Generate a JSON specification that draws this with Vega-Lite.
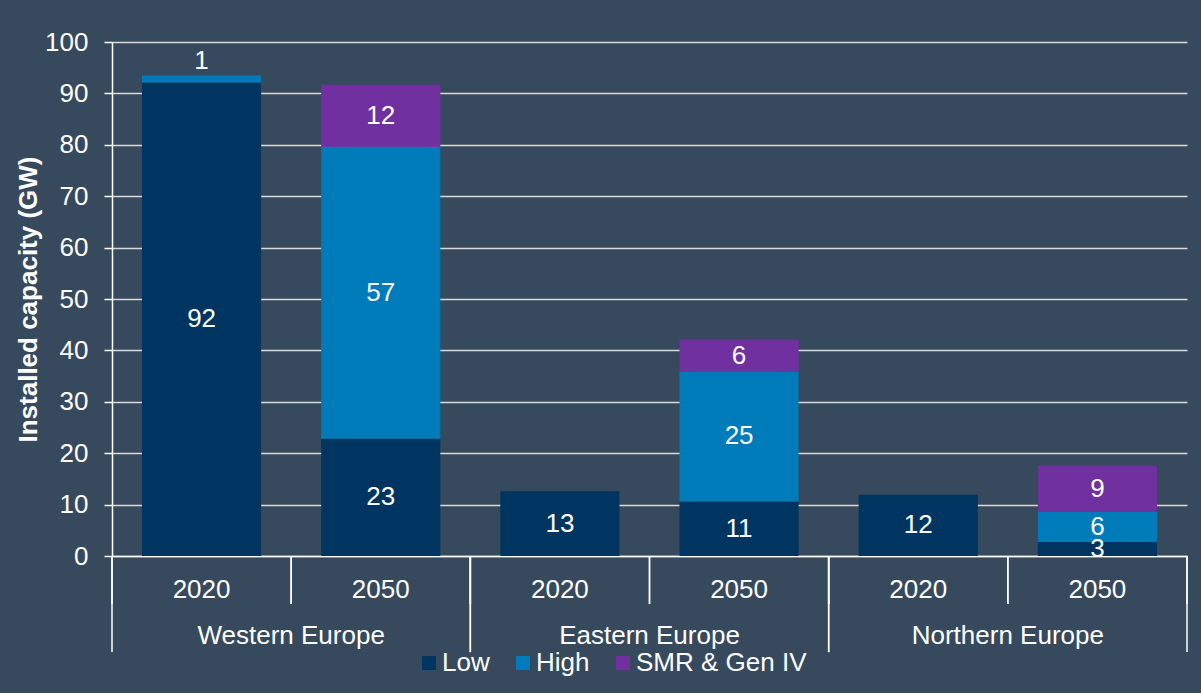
{
  "$schema": "https://vega.github.io/schema/vega-lite/v6.json",
  "width": 1075,
  "height": 514,
  "autosize": {"type": "none"},
  "padding": {"left": 112, "top": 42, "right": 14, "bottom": 137},
  "background": "#36495d",
  "config": {
    "font": "Liberation Sans",
    "view": {"stroke": null},
    "legend": {"padding": 0}
  },
  "datasets": {
    "cap": [
      {"region": "Western Europe", "year": "2020", "key": "Western Europe|2020", "series": "Low", "value": 92.1},
      {"region": "Western Europe", "year": "2020", "key": "Western Europe|2020", "series": "High", "value": 1.4},
      {"region": "Western Europe", "year": "2050", "key": "Western Europe|2050", "series": "Low", "value": 22.8},
      {"region": "Western Europe", "year": "2050", "key": "Western Europe|2050", "series": "High", "value": 56.8},
      {"region": "Western Europe", "year": "2050", "key": "Western Europe|2050", "series": "SMR & Gen IV", "value": 12.1},
      {"region": "Eastern Europe", "year": "2020", "key": "Eastern Europe|2020", "series": "Low", "value": 12.6},
      {"region": "Eastern Europe", "year": "2050", "key": "Eastern Europe|2050", "series": "Low", "value": 10.6},
      {"region": "Eastern Europe", "year": "2050", "key": "Eastern Europe|2050", "series": "High", "value": 25.3},
      {"region": "Eastern Europe", "year": "2050", "key": "Eastern Europe|2050", "series": "SMR & Gen IV", "value": 6.2},
      {"region": "Northern Europe", "year": "2020", "key": "Northern Europe|2020", "series": "Low", "value": 11.9},
      {"region": "Northern Europe", "year": "2050", "key": "Northern Europe|2050", "series": "Low", "value": 2.7},
      {"region": "Northern Europe", "year": "2050", "key": "Northern Europe|2050", "series": "High", "value": 5.9},
      {"region": "Northern Europe", "year": "2050", "key": "Northern Europe|2050", "series": "SMR & Gen IV", "value": 9.0}
    ],
    "regions": [
      {"region": "Western Europe"},
      {"region": "Eastern Europe"},
      {"region": "Northern Europe"}
    ]
  },
  "layer": [
    {
      "data": {"name": "cap"},
      "transform": [
        {"calculate": "indexof(['Low','High','SMR & Gen IV'], datum.series)", "as": "ord"},
        {"stack": "value", "groupby": ["key"], "sort": [{"field": "ord", "order": "ascending"}], "as": ["y0", "y1"]},
        {"calculate": "(datum.y0 + datum.y1) / 2", "as": "mid"}
      ],
      "layer": [
        {
          "mark": {"type": "bar"},
          "encoding": {
            "x": {
              "field": "key", "type": "nominal",
              "sort": ["Western Europe|2020", "Western Europe|2050", "Eastern Europe|2020", "Eastern Europe|2050", "Northern Europe|2020", "Northern Europe|2050"],
              "scale": {"paddingInner": 0.335, "paddingOuter": 0.1675},
              "axis": {
                "title": null,
                "labelExpr": "split(datum.label, '|')[1]",
                "labelAngle": 0,
                "labelColor": "white",
                "labelFontSize": 26,
                "labelPadding": 20,
                "ticks": false,
                "domainColor": "white",
                "domainWidth": 1.5,
                "grid": false
              }
            },
            "y": {
              "field": "y0", "type": "quantitative",
              "scale": {"domain": [0, 100], "nice": false},
              "axis": {
                "title": "Installed capacity (GW)",
                "titleColor": "white",
                "titleFontSize": 26,
                "titleFontWeight": "bold",
                "titleAngle": 270,
                "titleX": -84,
                "titleY": 257,
                "titleAlign": "center",
                "titleBaseline": "middle",
                "values": [0, 10, 20, 30, 40, 50, 60, 70, 80, 90, 100],
                "grid": true,
                "gridColor": "#d9d9d9",
                "gridWidth": 1.5,
                "domainColor": "white",
                "domainWidth": 1.5,
                "tickColor": "white",
                "tickWidth": 1.5,
                "tickSize": 8,
                "labelColor": "white",
                "labelFontSize": 26,
                "labelPadding": 16
              }
            },
            "y2": {"field": "y1"},
            "color": {
              "field": "series", "type": "nominal",
              "scale": {"domain": ["Low", "High", "SMR & Gen IV"], "range": ["#003561", "#007bba", "#7030a0"]},
              "legend": {
                "title": null,
                "orient": "none",
                "legendX": 304,
                "legendY": 608,
                "direction": "horizontal",
                "symbolType": "square",
                "symbolSize": 196,
                "symbolStrokeWidth": 0,
                "symbolOpacity": 1,
                "labelColor": "white",
                "labelFontSize": 26,
                "labelOffset": 0,
                "labelLimit": 400,
                "columnPadding": 20
              }
            }
          }
        },
        {
          "transform": [{"filter": "datum.value >= 2"}],
          "mark": {"type": "text", "color": "white", "fontSize": 26, "baseline": "middle"},
          "encoding": {
            "x": {"field": "key", "type": "nominal", "sort": ["Western Europe|2020", "Western Europe|2050", "Eastern Europe|2020", "Eastern Europe|2050", "Northern Europe|2020", "Northern Europe|2050"]},
            "y": {"field": "mid", "type": "quantitative"},
            "text": {"field": "value", "type": "quantitative", "format": ".0f"}
          }
        },
        {
          "transform": [{"filter": "datum.value < 2"}],
          "mark": {"type": "text", "color": "white", "fontSize": 26, "baseline": "bottom", "dy": -1},
          "encoding": {
            "x": {"field": "key", "type": "nominal", "sort": ["Western Europe|2020", "Western Europe|2050", "Eastern Europe|2020", "Eastern Europe|2050", "Northern Europe|2020", "Northern Europe|2050"]},
            "y": {"field": "y1", "type": "quantitative"},
            "text": {"field": "value", "type": "quantitative", "format": ".0f"}
          }
        }
      ]
    },
    {
      "data": {"name": "cap"},
      "transform": [{"aggregate": [{"op": "count", "as": "n"}], "groupby": ["key"]}],
      "layer": [
        {
          "mark": {"type": "rule", "color": "white", "strokeWidth": 1.5},
          "encoding": {
            "x": {"field": "key", "type": "nominal", "sort": ["Western Europe|2020", "Western Europe|2050", "Eastern Europe|2020", "Eastern Europe|2050", "Northern Europe|2020", "Northern Europe|2050"], "bandPosition": 0, "scale": {"paddingInner": 0, "paddingOuter": 0}, "axis": null},
            "y": {"datum": 0, "type": "quantitative"},
            "y2": {"datum": -9.34}
          }
        },
        {
          "mark": {"type": "rule", "color": "white", "strokeWidth": 1.5},
          "encoding": {
            "x": {"field": "key", "type": "nominal", "sort": ["Western Europe|2020", "Western Europe|2050", "Eastern Europe|2020", "Eastern Europe|2050", "Northern Europe|2020", "Northern Europe|2050"], "bandPosition": 1, "scale": {"paddingInner": 0, "paddingOuter": 0}, "axis": null},
            "y": {"datum": 0, "type": "quantitative"},
            "y2": {"datum": -9.34}
          }
        }
      ]
    },
    {
      "data": {"name": "regions"},
      "layer": [
        {
          "mark": {"type": "rule", "color": "white", "strokeWidth": 1.5},
          "encoding": {
            "x": {"field": "region", "type": "nominal", "sort": ["Western Europe", "Eastern Europe", "Northern Europe"], "bandPosition": 0, "scale": {"paddingInner": 0, "paddingOuter": 0}, "axis": null},
            "y": {"datum": 0, "type": "quantitative"},
            "y2": {"datum": -18.7}
          }
        },
        {
          "mark": {"type": "rule", "color": "white", "strokeWidth": 1.5},
          "encoding": {
            "x": {"field": "region", "type": "nominal", "sort": ["Western Europe", "Eastern Europe", "Northern Europe"], "bandPosition": 1, "scale": {"paddingInner": 0, "paddingOuter": 0}, "axis": null},
            "y": {"datum": 0, "type": "quantitative"},
            "y2": {"datum": -18.7}
          }
        },
        {
          "mark": {"type": "text", "color": "white", "fontSize": 26, "baseline": "middle"},
          "encoding": {
            "x": {"field": "region", "type": "nominal", "sort": ["Western Europe", "Eastern Europe", "Northern Europe"], "scale": {"paddingInner": 0, "paddingOuter": 0}, "axis": null},
            "y": {"datum": -15.6, "type": "quantitative"},
            "text": {"field": "region"}
          }
        }
      ]
    }
  ],
  "resolve": {"scale": {"x": "independent"}}
}
